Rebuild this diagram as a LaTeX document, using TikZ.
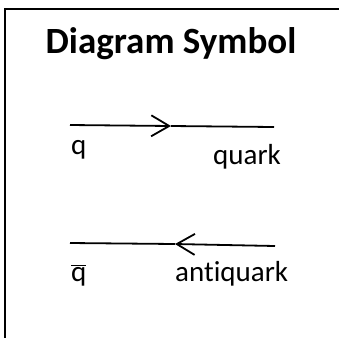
\documentclass[tikz,border=0pt]{standalone}
\usepackage{fontspec}
\setmainfont[Ligatures=NoCommon]{Carlito}
\usetikzlibrary{positioning,arrows.meta}

\begin{document}
\begin{tikzpicture}[
        x=1pt, y=-1pt,
        frame/.style={line width=2.6pt, black},
        line/.style={line width=1.8pt, black},
        fermion/.style={line, -{Straight Barb[length=18pt, width=21pt, line width=1.8pt]}},
        title/.style={font=\fontsize{37}{44}\selectfont\bfseries, anchor=base},
        lbl/.style={font=\fontsize{29}{34}\selectfont, anchor=base west, inner sep=0pt}
    ]
        \useasboundingbox (0,0) rectangle (339,338);

        % Frame (open at the right and bottom)
        \draw[frame] (339,9) -- (5,9) -- (5,338);

        % Title
        \node[title] (ttl) at (171,53) {Diagram Symbol};

        % Quark line
        \coordinate (q-l) at (70,125);
        \coordinate (q-m) at (171,126);
        \coordinate (q-r) at (274,127);
        \draw[fermion] (q-l) -- (q-m);
        \draw[line] (q-m) -- (q-r);
        \node[lbl] (qlbl) at (71,154) {q};
        \node[lbl] (quarklbl) at (213,164) {quark};

        % Antiquark line
        \coordinate (aq-l) at (70,243);
        \coordinate (aq-m) at (175,244);
        \coordinate (aq-r) at (275,246);
        \draw[fermion] (aq-r) -- (aq-m);
        \draw[line] (aq-m) -- (aq-l);
        \node[lbl] (qbarlbl) at (71,281) {$\overline{\mbox{q}}$};
        \node[lbl] (antiquarklbl) at (175,281) {antiquark};
    \end{tikzpicture}
\end{document}
